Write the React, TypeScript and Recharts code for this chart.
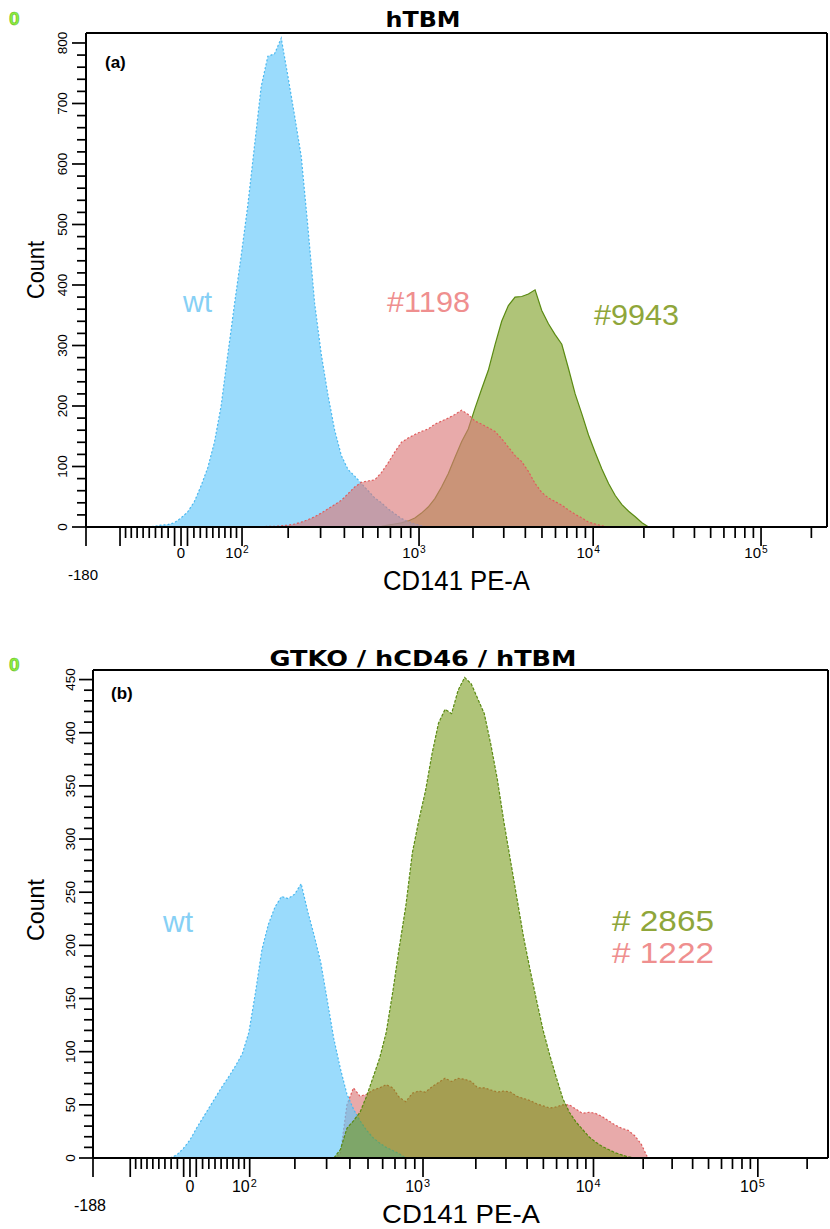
import React from 'react';
import { AreaChart, Area, XAxis, YAxis, ReferenceLine } from 'recharts';

// histogram bins sit on the display (logicle) axis, 100 channels per decade
const BIN_STEP = 4;

// (a) hTBM
const A_WT_START = -20;
const A_WT = [0, 1, 3, 4, 7, 15, 25, 42, 68, 98, 140, 200, 285, 368, 448, 532, 630, 728, 778, 782, 808, 745, 680, 612, 495, 370, 285, 218, 160, 118, 95, 84, 72, 60, 48, 40, 30, 22, 14, 9, 5, 2, 0];
const A_1198_START = 48;
const A_1198 = [0, 1, 1, 2, 3, 5, 8, 12, 17, 23, 30, 37, 44, 55, 66, 74, 76, 78, 90, 106, 124, 140, 147, 153, 158, 162, 170, 175, 180, 186, 193, 186, 175, 170, 164, 158, 146, 132, 118, 108, 92, 72, 57, 48, 42, 36, 28, 21, 15, 8, 5, 2, 0];
const A_9943_START = 116;
const A_9943 = [0, 1, 3, 5, 7, 10, 15, 23, 33, 47, 66, 88, 115, 141, 162, 196, 228, 259, 301, 340, 366, 380, 381, 385, 392, 358, 336, 318, 302, 262, 220, 187, 152, 123, 96, 72, 52, 37, 26, 17, 7, 0];

// (b) GTKO / hCD46 / hTBM
const B_WT_START = -12;
const B_WT = [0, 3, 9, 17, 28, 38, 48, 58, 68, 77, 87, 98, 118, 155, 196, 220, 236, 246, 244, 248, 258, 232, 209, 184, 148, 112, 84, 60, 46, 35, 26, 19, 14, 10, 7, 4, 0];
const B_2865_START = 88;
const B_2865 = [0, 8, 28, 35, 43, 58, 76, 94, 118, 156, 198, 237, 287, 318, 345, 380, 409, 422, 418, 440, 452, 446, 432, 418, 389, 356, 316, 280, 244, 208, 177, 148, 120, 97, 76, 56, 43, 34, 27, 20, 15, 11, 8, 5, 3, 1, 0];
const B_1222_START = 88;
const B_1222 = [0, 4, 50, 66, 58, 60, 64, 66, 69, 66, 57, 53, 61, 63, 62, 67, 71, 75, 72, 75, 74, 72, 66, 66, 64, 62, 63, 62, 58, 56, 54, 51, 49, 47, 48, 50, 50, 46, 42, 43, 42, 39, 35, 31, 28, 26, 21, 13, 0];

// axis ticks (raw CD141 PE-A values)
const X_LABELLED = [0, 100, 1000, 10000, 100000];
const X_LABELS = ['0', '2', '3', '4', '5'];
const X_LONG = [-100, -10, 10];
const X_MINOR = [-90, -80, -70, -60, -50, -40, -30, -20, 20, 30, 40, 50, 60, 70, 80, 90,
  200, 300, 400, 500, 600, 700, 800, 900, 2000, 3000, 4000, 5000, 6000, 7000, 8000, 9000,
  20000, 30000, 40000, 50000, 60000, 70000, 80000, 90000, 200000];
const Y_MAJOR_A = [0, 100, 200, 300, 400, 500, 600, 700, 800];
const Y_MAJOR_B = [0, 50, 100, 150, 200, 250, 300, 350, 400, 450];

// logicle-like biexponential display transform
const LG_P2 = 5.5;
const LG_C = 33.6;
const biex = (d: number) => LG_C * (Math.pow(10, d) - LG_P2 * Math.pow(10, -d / Math.sqrt(LG_P2)) + LG_P2 - 1);
const toChannel = (v: number) => {
  const a = Math.abs(v);
  let lo = 0, hi = 7;
  for (let i = 0; i < 60; i++) {
    const m = (lo + hi) / 2;
    if (biex(m) < a) lo = m; else hi = m;
  }
  return Math.sign(v) * 100 * (lo + hi) / 2;
};

const FONT = '"Liberation Sans", Arial, Helvetica, sans-serif';
const TITLE_FONT = '"DejaVu Sans", Verdana, sans-serif';

const BLUE = { fill: '#64c8fa', op: 0.65, stroke: '#4ab8ef' };
const RED = { fill: '#da7878', op: 0.63, stroke: '#e05c5c' };
const GREEN = { fill: '#6e940a', op: 0.55, stroke: '#5a8a12' };

function buildRows(series: { key: string; start: number; values: number[] }[]) {
  const map = new Map<number, any>();
  series.forEach(s => s.values.forEach((v, i) => {
    const u = s.start + i * BIN_STEP;
    const row = map.get(u) ?? { u };
    row[s.key] = v;
    map.set(u, row);
  }));
  return [...map.values()].sort((a, b) => a.u - b.u);
}

type XT = { u: number; len: number; text?: string; exp?: string; isMin?: boolean };

function makeXTicks(axisMinLabel: string, minU: number): XT[] {
  const out: XT[] = [{ u: minU, len: 19, text: axisMinLabel, isMin: true }];
  X_LABELLED.forEach((v, i) => out.push(v === 0
    ? { u: toChannel(v), len: 19, text: '0' }
    : { u: toChannel(v), len: 19, text: '10', exp: X_LABELS[i] }));
  X_LONG.forEach(v => out.push({ u: toChannel(v), len: 19 }));
  X_MINOR.forEach(v => out.push({ u: toChannel(v), len: 11 }));
  return out.sort((a, b) => a.u - b.u);
}

interface PanelCfg {
  rows: any[];
  order: { key: string; c: typeof BLUE; dash?: string }[];
  xMin: number;
  xMax: number;
  yMax: number;
  yMajor: number[];
  yMinorStep: number;
  xTicks: XT[];
  width: number;
  height: number;
  margin: { top: number; right: number; bottom: number; left: number };
  yAxisWidth: number;
  xAxisHeight: number;
  labelDy: number;
  minDy: number;
  tickFont: number;
  yLabelDx: number;
}

const Panel = ({ cfg }: { cfg: PanelCfg }) => {
  const yTicks: number[] = [];
  for (let v = 0; v <= cfg.yMax; v += cfg.yMinorStep) yTicks.push(v);
  const renderX = (p: any) => {
    const t = cfg.xTicks.find(k => Math.abs(k.u - p.payload.value) < 1e-6);
    if (!t) return <g />;
    const { x, y } = p;
    return (
      <g>
        <line x1={x} y1={y} x2={x} y2={y + t.len} stroke="#000" strokeWidth={1.7} />
        {t.text && !t.exp && (
          <text x={t.isMin ? x - 3 : x} y={y + (t.isMin ? cfg.minDy : cfg.labelDy)} textAnchor="middle"
            fontSize={cfg.tickFont} fontFamily={FONT} fill="#000">{t.text}</text>
        )}
        {t.exp && (
          <g>
            <text x={x} y={y + cfg.labelDy} textAnchor="end" fontSize={cfg.tickFont} fontFamily={FONT} fill="#000">{t.text}</text>
            <text x={x + 1} y={y + cfg.labelDy - 5} fontSize={cfg.tickFont * 0.68} fontFamily={FONT} fill="#000">{t.exp}</text>
          </g>
        )}
      </g>
    );
  };
  const renderY = (p: any) => {
    const { x, y } = p;
    const v = p.payload.value;
    const major = cfg.yMajor.includes(v);
    const lx = x - cfg.yLabelDx;
    return (
      <g>
        <line x1={x} y1={y} x2={x - (major ? 14 : 9)} y2={y} stroke="#000" strokeWidth={1.7} />
        {major && (
          <text x={lx} y={y} transform={`rotate(-90 ${lx} ${y})`} textAnchor="middle" fontSize={13.5}
            fontFamily={FONT} fill="#000">{v}</text>
        )}
      </g>
    );
  };
  return (
    <AreaChart width={cfg.width} height={cfg.height} data={cfg.rows} margin={cfg.margin}>
      <XAxis dataKey="u" type="number" domain={[cfg.xMin, cfg.xMax]} allowDataOverflow
        ticks={cfg.xTicks.map(t => t.u)} interval={0} tickSize={0} tickMargin={0} tickLine={false}
        tick={renderX} height={cfg.xAxisHeight} axisLine={{ stroke: '#000', strokeWidth: 2 }} />
      <YAxis type="number" domain={[0, cfg.yMax]} allowDataOverflow ticks={yTicks} interval={0}
        tickSize={0} tickMargin={0} tickLine={false} tick={renderY} width={cfg.yAxisWidth}
        axisLine={{ stroke: '#000', strokeWidth: 2 }} />
      {cfg.order.map(s => (
        <Area key={s.key} dataKey={s.key} type="linear" fill={s.c.fill} fillOpacity={s.c.op}
          stroke={s.c.stroke} strokeWidth={1.2} strokeDasharray={s.dash} isAnimationActive={false}
          dot={false} activeDot={false} />
      ))}
      <ReferenceLine y={cfg.yMax} stroke="#000" strokeWidth={2} />
      <ReferenceLine x={cfg.xMax} stroke="#000" strokeWidth={2} />
    </AreaChart>
  );
};

const cfgA: PanelCfg = {
  rows: buildRows([
    { key: 'wt', start: A_WT_START, values: A_WT },
    { key: 's1198', start: A_1198_START, values: A_1198 },
    { key: 's9943', start: A_9943_START, values: A_9943 },
  ]),
  order: [
    { key: 's9943', c: GREEN },
    { key: 'wt', c: BLUE, dash: '2 2' },
    { key: 's1198', c: RED, dash: '2 2' },
  ],
  xMin: -56.9,
  xMax: 386.8,
  yMax: 816.5,
  yMajor: Y_MAJOR_A,
  yMinorStep: 20,
  xTicks: makeXTicks('-180', -56.9),
  width: 830,
  height: 600,
  margin: { top: 33, right: 3, bottom: 0, left: 0 },
  yAxisWidth: 86,
  xAxisHeight: 73,
  labelDy: 31,
  minDy: 53,
  tickFont: 15,
  yLabelDx: 19,
};

const cfgB: PanelCfg = {
  rows: buildRows([
    { key: 'wt', start: B_WT_START, values: B_WT },
    { key: 's2865', start: B_2865_START, values: B_2865 },
    { key: 's1222', start: B_1222_START, values: B_1222 },
  ]),
  order: [
    { key: 's1222', c: RED, dash: '2 2' },
    { key: 'wt', c: BLUE, dash: '2 2' },
    { key: 's2865', c: GREEN, dash: '3 1.5' },
  ],
  xMin: -59.3,
  xMax: 390.2,
  yMax: 459,
  yMajor: Y_MAJOR_B,
  yMinorStep: 10,
  xTicks: makeXTicks('-188', -59.3),
  width: 830,
  height: 609,
  margin: { top: 50, right: 2, bottom: 0, left: 0 },
  yAxisWidth: 93,
  xAxisHeight: 71,
  labelDy: 34,
  minDy: 53,
  tickFont: 16,
  yLabelDx: 18,
};

const Txt = (p: any) => <text fontFamily={FONT} {...p} />;

export default function App() {
  return (
    <div style={{ position: 'absolute', left: 0, top: 0, width: 830, height: 1229, background: '#fff' }}>
      <div style={{ position: 'absolute', left: 0, top: 0 }}><Panel cfg={cfgA} /></div>
      <div style={{ position: 'absolute', left: 0, top: 620 }}><Panel cfg={cfgB} /></div>
      <svg width={830} height={1229} style={{ position: 'absolute', left: 0, top: 0, pointerEvents: 'none' }}>
        <Txt x={9} y={25} fontSize={19} fontWeight="bold" fill="#8cf03c" stroke="#5fb52a" strokeWidth={0.6}>0</Txt>
        <Txt x={9} y={671} fontSize={19} fontWeight="bold" fill="#8cf03c" stroke="#5fb52a" strokeWidth={0.6}>0</Txt>
        <text x={423} y={27} textAnchor="middle" fontFamily={TITLE_FONT} fontWeight="bold" fontSize={21}
          textLength={75} lengthAdjust="spacingAndGlyphs">hTBM</text>
        <text x={423} y={666} textAnchor="middle" fontFamily={TITLE_FONT} fontWeight="bold" fontSize={21}
          textLength={307} lengthAdjust="spacingAndGlyphs">GTKO / hCD46 / hTBM</text>
        <Txt x={105} y={68} fontSize={17} fontWeight="bold">(a)</Txt>
        <Txt x={111} y={699} fontSize={17} fontWeight="bold">(b)</Txt>

        <Txt x={183} y={312} fontSize={30} fill="#86d0f5" textLength={29} lengthAdjust="spacingAndGlyphs">wt</Txt>
        <Txt x={387} y={312} fontSize={30} fill="#ef8f8f" textLength={83} lengthAdjust="spacingAndGlyphs">#1198</Txt>
        <Txt x={594} y={325} fontSize={30} fill="#8fa63a" textLength={85} lengthAdjust="spacingAndGlyphs">#9943</Txt>
        <Txt x={163} y={932} fontSize={30} fill="#86d0f5" textLength={30} lengthAdjust="spacingAndGlyphs">wt</Txt>
        <Txt x={612} y={931} fontSize={30} fill="#8fa63a" textLength={102} lengthAdjust="spacingAndGlyphs"># 2865</Txt>
        <Txt x={612} y={963} fontSize={30} fill="#ef8f8f" textLength={102} lengthAdjust="spacingAndGlyphs"># 1222</Txt>

        <Txt x={383} y={590} fontSize={27} textLength={147} lengthAdjust="spacingAndGlyphs">CD141 PE-A</Txt>
        <Txt x={382} y={1223} fontSize={26} textLength={158} lengthAdjust="spacingAndGlyphs">CD141 PE-A</Txt>
        <Txt x={44} y={270} fontSize={24} textAnchor="middle" transform="rotate(-90 44 270)" textLength={58}
          lengthAdjust="spacingAndGlyphs">Count</Txt>
        <Txt x={44} y={910} fontSize={24} textAnchor="middle" transform="rotate(-90 44 910)" textLength={62}
          lengthAdjust="spacingAndGlyphs">Count</Txt>
      </svg>
    </div>
  );
}
